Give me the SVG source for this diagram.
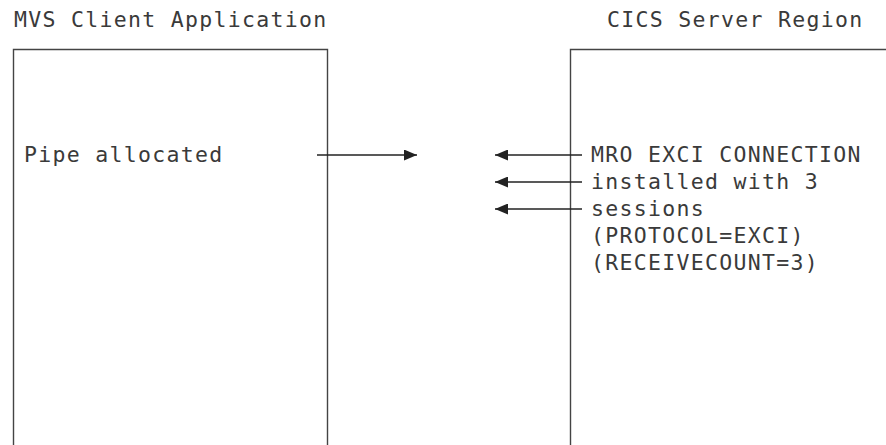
<svg xmlns="http://www.w3.org/2000/svg" width="886" height="445" viewBox="0 0 886 445">
<style>
.t{font-family:"DejaVu Sans Mono","Liberation Mono",monospace;font-size:21.5px;letter-spacing:1.3px;fill:#3a3a3a;}
.box{fill:none;stroke:#444;stroke-width:1.4;}
.c{stroke:#222;stroke-width:1.3;fill:none;}
</style>
<defs>
<marker id="ah" viewBox="0 0 13 11" refX="13" refY="5.5" markerWidth="13" markerHeight="11" markerUnits="userSpaceOnUse" orient="auto">
<path d="M0,0 L13,5.5 L0,11 Z" fill="#222"/>
</marker>
</defs>
<rect width="886" height="445" fill="#fff"/>
<g id="client">
<text class="t" x="14" y="27">MVS Client Application</text>
<path class="box" d="M13.5,445 V49.5 H327.5 V445"/>
<text class="t" x="24" y="162">Pipe allocated</text>
</g>
<g id="server">
<text class="t" x="607" y="27">CICS Server Region</text>
<path class="box" d="M570.5,445 V49.5 H886"/>
<text class="t" x="591" y="162">MRO EXCI CONNECTION</text>
<text class="t" x="591" y="189">installed with 3</text>
<text class="t" x="591" y="216">sessions</text>
<text class="t" x="591" y="243">(PROTOCOL=EXCI)</text>
<text class="t" x="591" y="270">(RECEIVECOUNT=3)</text>
</g>
<g id="connectors">
<line class="c" x1="317" y1="155" x2="417" y2="155" marker-end="url(#ah)"/>
<line class="c" x1="582" y1="155" x2="495" y2="155" marker-end="url(#ah)"/>
<line class="c" x1="582" y1="182" x2="495" y2="182" marker-end="url(#ah)"/>
<line class="c" x1="582" y1="209" x2="495" y2="209" marker-end="url(#ah)"/>
</g>
</svg>
